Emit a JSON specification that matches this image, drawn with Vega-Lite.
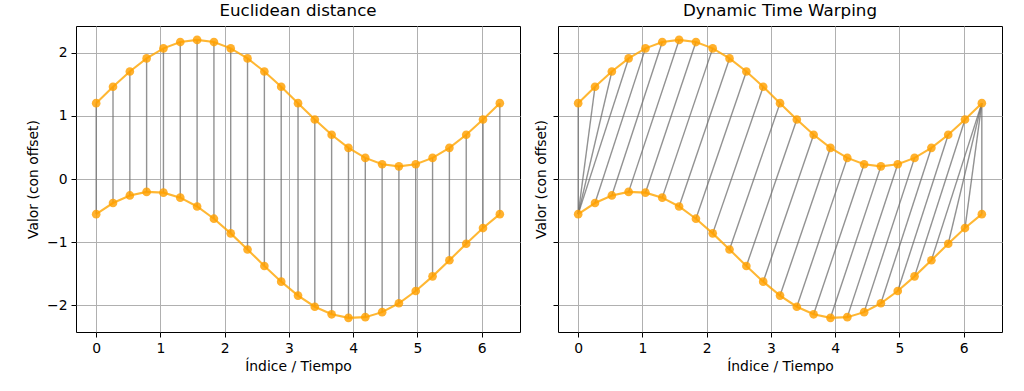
{
  "$schema": "https://vega.github.io/schema/vega-lite/v6.json",
  "autosize": {"type": "none"},
  "padding": {"left": 76, "top": 26, "right": 948, "bottom": 365},
  "background": "white",
  "config": {
    "font": "DejaVu Sans",
    "view": {"stroke": "black", "strokeWidth": 1},
    "axis": {
      "domain": false,
      "grid": true,
      "gridColor": "#b0b0b0",
      "gridWidth": 1,
      "tickColor": "black",
      "tickSize": 5,
      "labelFontSize": 13.9,
      "labelColor": "black",
      "labelPadding": 4,
      "labelFlush": false,
      "titleFontSize": 13.9,
      "titleFontWeight": "normal",
      "titleColor": "black"
    },
    "title": {"fontSize": 16.7, "fontWeight": "normal", "color": "black", "offset": 6}
  },
  "datasets": {
    "series": [
      {"s": "a", "x": 0, "y": 1.2}, {"s": "a", "x": 0.262, "y": 1.459}, {"s": "a", "x": 0.524, "y": 1.7},
      {"s": "a", "x": 0.785, "y": 1.907}, {"s": "a", "x": 1.047, "y": 2.066}, {"s": "a", "x": 1.309, "y": 2.166},
      {"s": "a", "x": 1.571, "y": 2.2}, {"s": "a", "x": 1.833, "y": 2.166}, {"s": "a", "x": 2.094, "y": 2.066},
      {"s": "a", "x": 2.356, "y": 1.907}, {"s": "a", "x": 2.618, "y": 1.7}, {"s": "a", "x": 2.88, "y": 1.459},
      {"s": "a", "x": 3.142, "y": 1.2}, {"s": "a", "x": 3.403, "y": 0.941}, {"s": "a", "x": 3.665, "y": 0.7},
      {"s": "a", "x": 3.927, "y": 0.493}, {"s": "a", "x": 4.189, "y": 0.334}, {"s": "a", "x": 4.451, "y": 0.234},
      {"s": "a", "x": 4.712, "y": 0.2}, {"s": "a", "x": 4.974, "y": 0.234}, {"s": "a", "x": 5.236, "y": 0.334},
      {"s": "a", "x": 5.498, "y": 0.493}, {"s": "a", "x": 5.76, "y": 0.7}, {"s": "a", "x": 6.021, "y": 0.941},
      {"s": "a", "x": 6.283, "y": 1.2},
      {"s": "b", "x": 0, "y": -0.556}, {"s": "b", "x": 0.262, "y": -0.38}, {"s": "b", "x": 0.524, "y": -0.26},
      {"s": "b", "x": 0.785, "y": -0.204}, {"s": "b", "x": 1.047, "y": -0.216}, {"s": "b", "x": 1.309, "y": -0.295},
      {"s": "b", "x": 1.571, "y": -0.435}, {"s": "b", "x": 1.833, "y": -0.628}, {"s": "b", "x": 2.094, "y": -0.86},
      {"s": "b", "x": 2.356, "y": -1.115}, {"s": "b", "x": 2.618, "y": -1.376}, {"s": "b", "x": 2.88, "y": -1.624},
      {"s": "b", "x": 3.142, "y": -1.844}, {"s": "b", "x": 3.403, "y": -2.02}, {"s": "b", "x": 3.665, "y": -2.14},
      {"s": "b", "x": 3.927, "y": -2.196}, {"s": "b", "x": 4.189, "y": -2.185}, {"s": "b", "x": 4.451, "y": -2.106},
      {"s": "b", "x": 4.712, "y": -1.965}, {"s": "b", "x": 4.974, "y": -1.772}, {"s": "b", "x": 5.236, "y": -1.54},
      {"s": "b", "x": 5.498, "y": -1.285}, {"s": "b", "x": 5.76, "y": -1.024}, {"s": "b", "x": 6.021, "y": -0.776},
      {"s": "b", "x": 6.283, "y": -0.556}
    ],
    "euc": [
      {"x": 0, "y": 1.2, "x2": 0, "y2": -0.556},
      {"x": 0.262, "y": 1.459, "x2": 0.262, "y2": -0.38},
      {"x": 0.524, "y": 1.7, "x2": 0.524, "y2": -0.26},
      {"x": 0.785, "y": 1.907, "x2": 0.785, "y2": -0.204},
      {"x": 1.047, "y": 2.066, "x2": 1.047, "y2": -0.216},
      {"x": 1.309, "y": 2.166, "x2": 1.309, "y2": -0.295},
      {"x": 1.571, "y": 2.2, "x2": 1.571, "y2": -0.435},
      {"x": 1.833, "y": 2.166, "x2": 1.833, "y2": -0.628},
      {"x": 2.094, "y": 2.066, "x2": 2.094, "y2": -0.86},
      {"x": 2.356, "y": 1.907, "x2": 2.356, "y2": -1.115},
      {"x": 2.618, "y": 1.7, "x2": 2.618, "y2": -1.376},
      {"x": 2.88, "y": 1.459, "x2": 2.88, "y2": -1.624},
      {"x": 3.142, "y": 1.2, "x2": 3.142, "y2": -1.844},
      {"x": 3.403, "y": 0.941, "x2": 3.403, "y2": -2.02},
      {"x": 3.665, "y": 0.7, "x2": 3.665, "y2": -2.14},
      {"x": 3.927, "y": 0.493, "x2": 3.927, "y2": -2.196},
      {"x": 4.189, "y": 0.334, "x2": 4.189, "y2": -2.185},
      {"x": 4.451, "y": 0.234, "x2": 4.451, "y2": -2.106},
      {"x": 4.712, "y": 0.2, "x2": 4.712, "y2": -1.965},
      {"x": 4.974, "y": 0.234, "x2": 4.974, "y2": -1.772},
      {"x": 5.236, "y": 0.334, "x2": 5.236, "y2": -1.54},
      {"x": 5.498, "y": 0.493, "x2": 5.498, "y2": -1.285},
      {"x": 5.76, "y": 0.7, "x2": 5.76, "y2": -1.024},
      {"x": 6.021, "y": 0.941, "x2": 6.021, "y2": -0.776},
      {"x": 6.283, "y": 1.2, "x2": 6.283, "y2": -0.556}
    ],
    "dtw": [
      {"x": 0, "y": 1.2, "x2": 0, "y2": -0.556},
      {"x": 0.262, "y": 1.459, "x2": 0, "y2": -0.556},
      {"x": 0.524, "y": 1.7, "x2": 0, "y2": -0.556},
      {"x": 0.785, "y": 1.907, "x2": 0, "y2": -0.556},
      {"x": 1.047, "y": 2.066, "x2": 0.262, "y2": -0.38},
      {"x": 1.309, "y": 2.166, "x2": 0.524, "y2": -0.26},
      {"x": 1.571, "y": 2.2, "x2": 0.785, "y2": -0.204},
      {"x": 1.833, "y": 2.166, "x2": 1.047, "y2": -0.216},
      {"x": 2.094, "y": 2.066, "x2": 1.309, "y2": -0.295},
      {"x": 2.356, "y": 1.907, "x2": 1.571, "y2": -0.435},
      {"x": 2.618, "y": 1.7, "x2": 1.833, "y2": -0.628},
      {"x": 2.88, "y": 1.459, "x2": 2.094, "y2": -0.86},
      {"x": 3.142, "y": 1.2, "x2": 2.356, "y2": -1.115},
      {"x": 3.403, "y": 0.941, "x2": 2.618, "y2": -1.376},
      {"x": 3.665, "y": 0.7, "x2": 2.88, "y2": -1.624},
      {"x": 3.927, "y": 0.493, "x2": 3.142, "y2": -1.844},
      {"x": 4.189, "y": 0.334, "x2": 3.403, "y2": -2.02},
      {"x": 4.451, "y": 0.234, "x2": 3.665, "y2": -2.14},
      {"x": 4.712, "y": 0.2, "x2": 3.927, "y2": -2.196},
      {"x": 4.974, "y": 0.234, "x2": 4.189, "y2": -2.185},
      {"x": 5.236, "y": 0.334, "x2": 4.451, "y2": -2.106},
      {"x": 5.498, "y": 0.493, "x2": 4.712, "y2": -1.965},
      {"x": 5.76, "y": 0.7, "x2": 4.974, "y2": -1.772},
      {"x": 6.021, "y": 0.941, "x2": 5.236, "y2": -1.54},
      {"x": 6.283, "y": 1.2, "x2": 5.498, "y2": -1.285},
      {"x": 6.283, "y": 1.2, "x2": 5.76, "y2": -1.024},
      {"x": 6.283, "y": 1.2, "x2": 6.021, "y2": -0.776},
      {"x": 6.283, "y": 1.2, "x2": 6.283, "y2": -0.556}
    ]
  },
  "bounds": "flush",
  "spacing": 38,
  "hconcat": [
    {
      "width": 444,
      "height": 306,
      "title": {"text": "Euclidean distance"},
      "encoding": {
        "x": {"field": "x", "type": "quantitative", "scale": {"domain": [-0.314, 6.597], "nice": false, "zero": false},
              "axis": {"values": [0, 1, 2, 3, 4, 5, 6], "title": "Índice / Tiempo", "titlePadding": 5}},
        "y": {"field": "y", "type": "quantitative", "scale": {"domain": [-2.42, 2.42], "nice": false, "zero": false},
              "axis": {"values": [-2, -1, 0, 1, 2], "title": "Valor (con offset)", "titlePadding": 6}}
      },
      "layer": [
        {"data": {"name": "euc"}, "mark": {"type": "rule", "color": "#6e6e6e", "opacity": 0.75, "strokeWidth": 1.4},
         "encoding": {"x2": {"field": "x2"}, "y2": {"field": "y2"}}},
        {"data": {"name": "series"}, "mark": {"type": "line", "color": "#ffa500", "opacity": 0.8, "strokeWidth": 2.1},
         "encoding": {"detail": {"field": "s"}}},
        {"data": {"name": "series"}, "mark": {"type": "point", "filled": true, "color": "#ffa000", "opacity": 0.82, "size": 75},
         "encoding": {"detail": {"field": "s"}}}
      ]
    },
    {
      "width": 444,
      "height": 306,
      "title": {"text": "Dynamic Time Warping"},
      "encoding": {
        "x": {"field": "x", "type": "quantitative", "scale": {"domain": [-0.314, 6.597], "nice": false, "zero": false},
              "axis": {"values": [0, 1, 2, 3, 4, 5, 6], "title": "Índice / Tiempo", "titlePadding": 5}},
        "y": {"field": "y", "type": "quantitative", "scale": {"domain": [-2.42, 2.42], "nice": false, "zero": false},
              "axis": {"values": [-2, -1, 0, 1, 2], "labels": false, "title": "Valor (con offset)", "titlePadding": 4}}
      },
      "layer": [
        {"data": {"name": "dtw"}, "mark": {"type": "rule", "color": "#6e6e6e", "opacity": 0.75, "strokeWidth": 1.4},
         "encoding": {"x2": {"field": "x2"}, "y2": {"field": "y2"}}},
        {"data": {"name": "series"}, "mark": {"type": "line", "color": "#ffa500", "opacity": 0.8, "strokeWidth": 2.1},
         "encoding": {"detail": {"field": "s"}}},
        {"data": {"name": "series"}, "mark": {"type": "point", "filled": true, "color": "#ffa000", "opacity": 0.82, "size": 75},
         "encoding": {"detail": {"field": "s"}}}
      ]
    }
  ]
}
